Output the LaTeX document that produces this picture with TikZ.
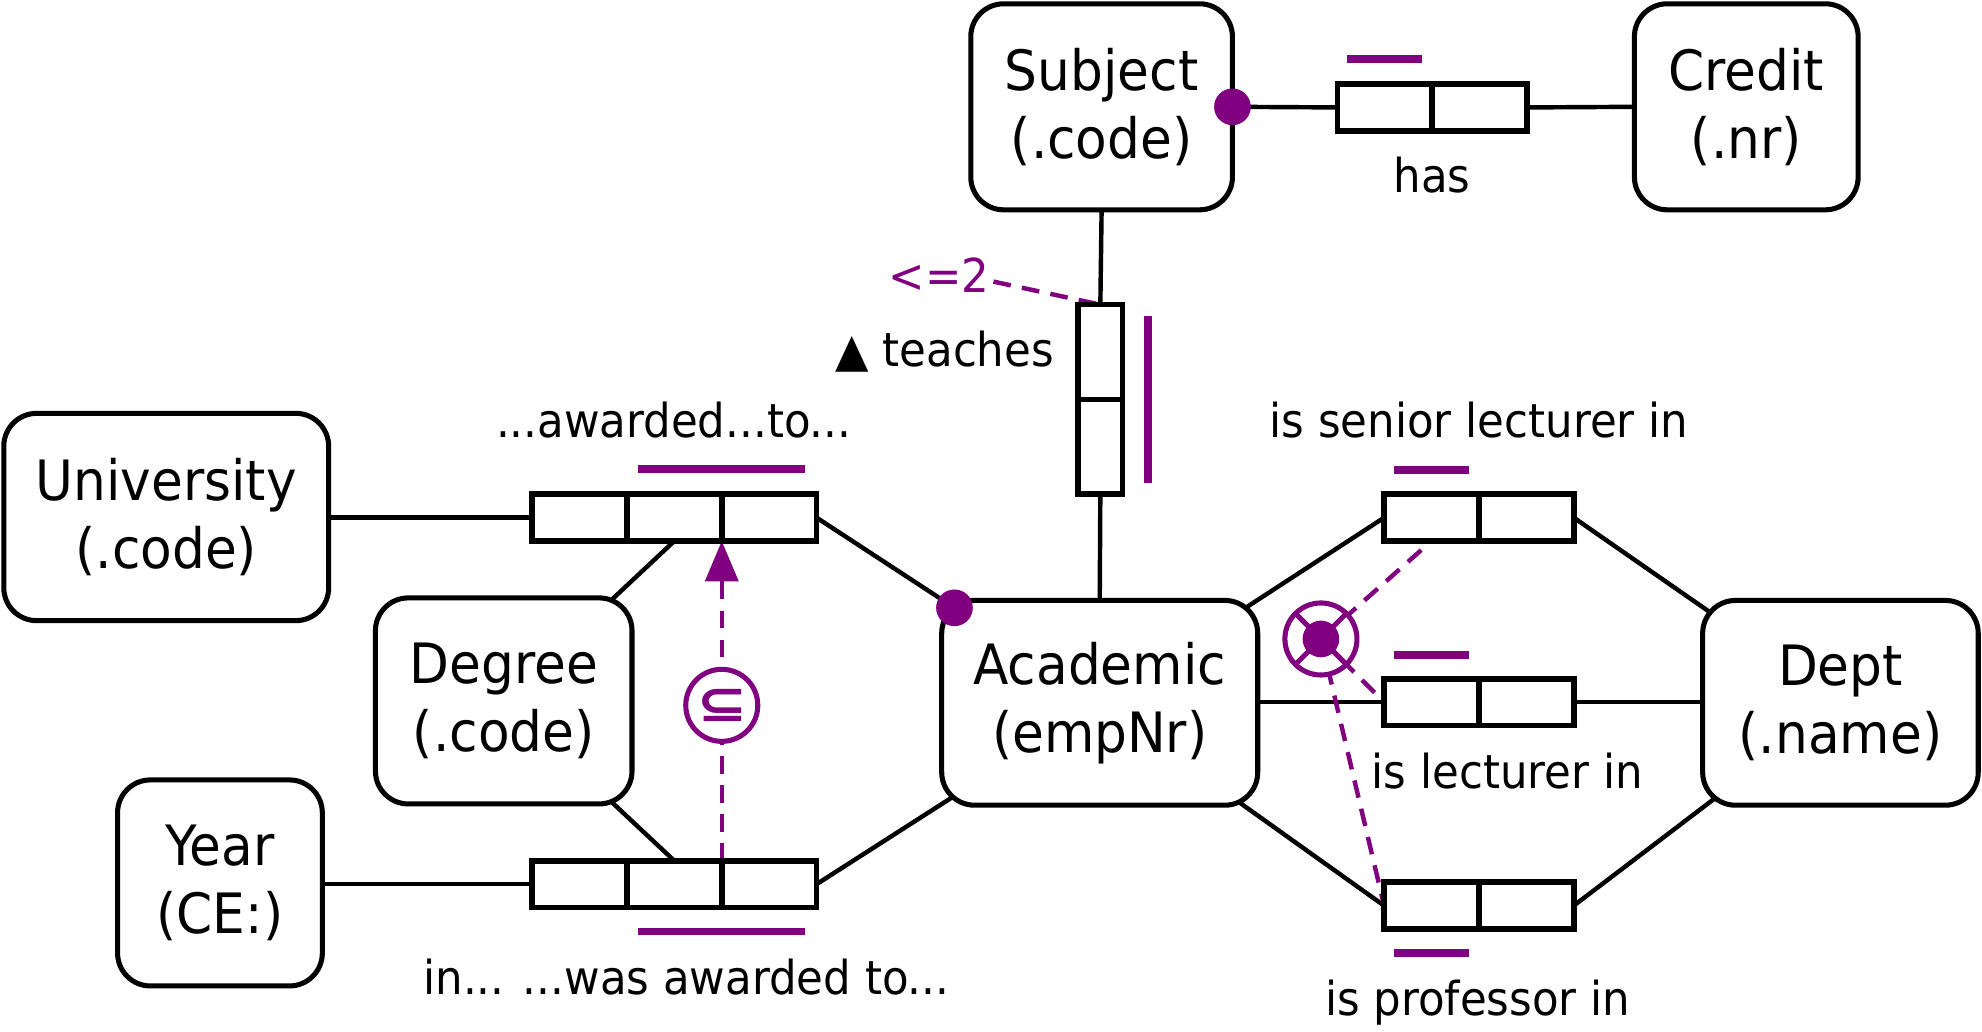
\documentclass[tikz,border=0pt]{standalone}
\usepackage{fontspec}
\setmainfont[FakeStretch=0.93]{DejaVu Sans}
\usetikzlibrary{arrows.meta,backgrounds,calc}
\definecolor{orm}{HTML}{800080}
\newcommand\ormEnt{\fontsize{44}{54}\selectfont}
\newcommand\ormLbl{\fontsize{37}{44}\selectfont}
\newcommand\ormSub{\fontsize{40}{44}\selectfont\bfseries}
\begin{document}
\begin{tikzpicture}[x=1pt,y=-1pt,
  ent/.style={draw, line width=4pt, rounded corners=26pt, fill=white, align=center,
              font=\ormEnt, inner sep=0pt, outer sep=0pt},
  role/.style={draw, line width=4.5pt, fill=white, minimum width=75pt, minimum height=37pt,
               inner sep=0pt, outer sep=0pt},
  vrole/.style={role, minimum width=35pt, minimum height=75pt},
  conn/.style={line width=3.5pt},
  ubar/.style={draw=orm, line width=6pt},
  pdash/.style={draw=orm, line width=3.5pt, dash pattern=on 14pt off 9pt},
  lbl/.style={font=\ormLbl, inner sep=0pt, anchor=base},
  pdot/.style={fill=orm},
  ring/.style={draw=orm, circle, line width=4pt, minimum size=57pt, fill=white,
               inner sep=0pt, outer sep=0pt},
]
\useasboundingbox (0,0) rectangle (1568,816.4);

% entities
\node[ent, minimum width=207pt, minimum height=163pt] (subj) at (871.5,84.5) {Subject\\(.code)};
\node[ent, minimum width=177pt, minimum height=163pt] (cred) at (1381.5,84.5) {Credit\\(.nr)};
\node[ent, minimum width=257pt, minimum height=164pt] (univ) at (131.5,409) {University\\(.code)};
\node[ent, minimum width=203pt, minimum height=163pt] (deg) at (398.5,554.5) {Degree\\(.code)};
\node[ent, minimum width=162pt, minimum height=163pt] (year) at (174,698.5) {Year\\(CE:)};
\node[ent, minimum width=250pt, minimum height=162pt] (acad) at (870,556) {Academic\\(empNr)};
\node[ent, minimum width=218pt, minimum height=162pt] (dept) at (1456,556) {Dept\\(.name)};

% roles
\node[role] (has1) at (1095.5,85) {};
\node[role] (has2) at (1170.5,85) {};
\node[vrole] (tea1) at (870.5,278.5) {};
\node[vrole] (tea2) at (870.5,353.5) {};
\node[role] (aw1) at (458.5,409.5) {};
\node[role] (aw2) at (533.5,409.5) {};
\node[role] (aw3) at (608.5,409.5) {};
\node[role] (bt1) at (458.5,699.5) {};
\node[role] (bt2) at (533.5,699.5) {};
\node[role] (bt3) at (608.5,699.5) {};
\node[role] (sen1) at (1132.5,409.5) {};
\node[role] (sen2) at (1207.5,409.5) {};
\node[role] (lec1) at (1132.5,555.5) {};
\node[role] (lec2) at (1207.5,555.5) {};
\node[role] (pro1) at (1132.5,716.5) {};
\node[role] (pro2) at (1207.5,716.5) {};

% constraints
\node[ring, text=orm, font=\ormSub] (sub) at (571,558) {\raisebox{-3pt}{\scalebox{1.3}[1]{⊆}}};
\node[ring] (xc) at (1045,505.5) {};
\fill[pdot] (xc.center) circle[radius=14.5pt];
\draw[orm, line width=4pt] ($(xc.center)+(-19.5,-19.5)$) -- ($(xc.center)+(19.5,19.5)$);
\draw[orm, line width=4pt] ($(xc.center)+(-19.5,19.5)$) -- ($(xc.center)+(19.5,-19.5)$);

% labels
\node[lbl] (hasl) at (1133,152) {has};
\node[lbl, anchor=base east] (teal) at (834,290) {▲ teaches};
\node[lbl, anchor=base west, text=orm] (le2) at (703,231.5) {<=2};
\node[lbl] (awl) at (533,346) {...awarded...to...};
\node[lbl] (btl) at (543,787) {in... ...was awarded to...};
\node[lbl] (senl) at (1170,346) {is senior lecturer in};
\node[lbl] (lecl) at (1192.5,624) {is lecturer in};
\node[lbl] (prol) at (1169,803) {is professor in};

% uniqueness bars
\draw[ubar] ($(has1.north west)+(8,-20)$) -- ($(has1.north east)+(-8,-20)$);
\draw[ubar] ($(tea1.north east)+(20,9)$) -- ($(tea2.south east)+(20,-9)$);
\draw[ubar] ($(aw2.north west)+(9,-20)$) -- ($(aw3.north east)+(-9,-20)$);
\draw[ubar] ($(bt2.south west)+(9,19)$) -- ($(bt3.south east)+(-9,19)$);
\draw[ubar] ($(sen1.north west)+(8,-19)$) -- ($(sen1.north east)+(-8,-19)$);
\draw[ubar] ($(lec1.north west)+(8,-19)$) -- ($(lec1.north east)+(-8,-19)$);
\draw[ubar] ($(pro1.south west)+(8,19)$) -- ($(pro1.south east)+(-8,19)$);

% mandatory dots
\fill[pdot] (subj.east) circle[radius=14.5pt];
\fill[pdot] ($(aw3.east)!0.487!(acad.center)$) circle[radius=14.5pt];

\begin{pgfonlayer}{background}
  \fill[white] (0,0) rectangle (1568,816.4);
  \draw[conn] (subj.east) -- (has1.west);
  \draw[conn] (has2.east) -- (cred.west);
  \draw[conn] (subj.south) -- (tea1.north);
  \draw[conn] (tea2.south) -- (acad.north);
  \draw[conn] (univ.east |- aw1.west) -- (aw1.west);
  \draw[conn] (aw2.south) -- (deg.center);
  \draw[conn] (aw3.east) -- (acad.center);
  \draw[conn] (year.east |- bt1.west) -- (bt1.west);
  \draw[conn] (bt2.north) -- (deg.center);
  \draw[conn] (bt3.east) -- (acad.center);
  \draw[conn] (sen1.west) -- (acad.center);
  \draw[conn] (sen2.east) -- (dept.center);
  \draw[conn] (acad.east |- lec1.west) -- (lec1.west);
  \draw[conn] (lec2.east) -- (dept.west |- lec2.east);
  \draw[conn] (pro1.west) -- (acad.center);
  \draw[conn] (pro2.east) -- (dept.center);
  \draw[pdash] (xc.center) -- (sen1.south);
  \draw[pdash] (xc.center) -- (lec1.west);
  \draw[pdash] (xc.center) -- (pro1.west);
  \draw[pdash] ($(le2.east)+(3,5)$) -- (tea1.north);
  \draw[pdash, -{Triangle[length=32pt,width=26pt]}] (bt2.north east) -- (aw2.south east);
\end{pgfonlayer}
\end{tikzpicture}
\end{document}
